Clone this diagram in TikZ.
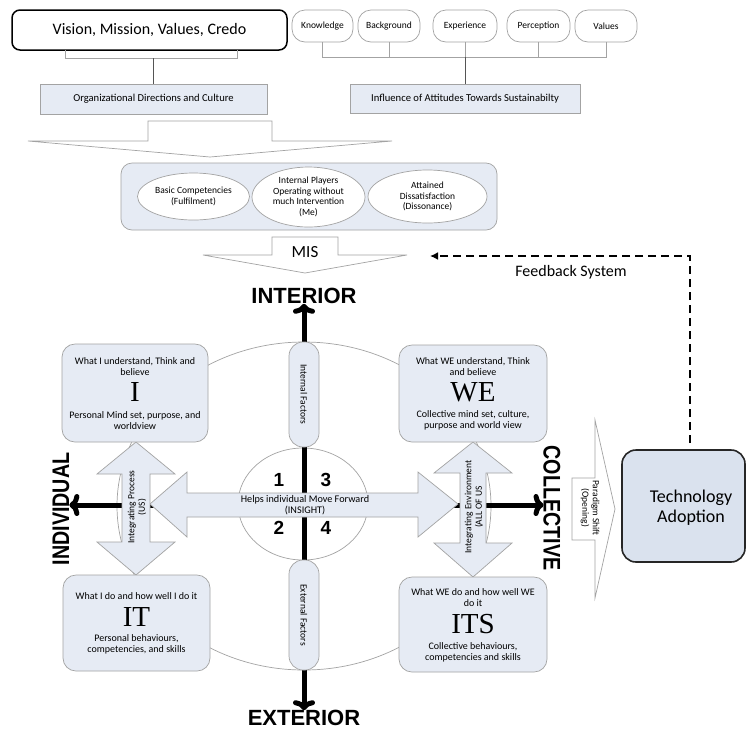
\documentclass[tikz,border=0pt]{standalone}
\usepackage{fontspec}
\setmainfont{Carlito}
\newfontfamily\axisfont{Liberation Sans}
\newfontfamily\serifletter{Liberation Serif}
\usetikzlibrary{arrows.meta,calc,shapes.geometric}

\definecolor{boxfill}{HTML}{E6EBF4}
\definecolor{techfill}{HTML}{DAE2EE}
\definecolor{edgegray}{HTML}{A3A3A3}
\definecolor{linkgray}{HTML}{555555}

\begin{document}
\begin{tikzpicture}[x=1pt,y=-1pt,
  every node/.style={inner sep=0pt, outer sep=0pt},
  smalltext/.style={font=\fontsize{9.5}{10.5}\selectfont},
  boxtext/.style={font=\fontsize{10}{11}\selectfont, align=center},
  thingray/.style={draw=edgegray, line width=0.7pt},
  link/.style={draw=linkgray, line width=0.8pt},
  lightbox/.style={thingray, fill=boxfill},
  pill/.style={thingray, fill=white, rounded corners=13pt, minimum height=32pt, smalltext},
  flatbox/.style={lightbox, minimum height=30pt, font=\fontsize{10.6}{12}\selectfont},
  oval/.style={ellipse, thingray, fill=white, align=center, smalltext},
  quadbox/.style={lightbox, rounded corners=13pt},
  bigletter/.style={font=\serifletter\fontsize{29}{29}\selectfont},
  axislabel/.style={font=\axisfont\bfseries\fontsize{22}{22}\selectfont},
  sidelabel/.style={font=\axisfont\bfseries\fontsize{24}{24}\selectfont},
  quadnum/.style={font=\axisfont\bfseries\fontsize{19}{19}\selectfont},
  axis/.style={line width=5pt, -{To[length=10pt,width=22pt]}},
  blockarrow/.style={thingray, fill=boxfill},
  feedback/.style={line width=2.6pt, dash pattern=on 8pt off 5pt, -{Latex[length=8pt,width=8pt]}}
]
\fill[white] (0,0) rectangle (746,729);
\path[use as bounding box] (0,0) rectangle (746,729);

% ---------- top row: organisation and attitudes ----------
\node[draw=black, line width=1.5pt, fill=white, rounded corners=8pt,
      minimum width=275pt, minimum height=40pt,
      font=\fontsize{16}{18}\selectfont] (vmv) at (149.5,30) {Vision, Mission, Values, Credo};
\node[flatbox, minimum width=227pt] (org) at (153.5,99) {Organizational Directions and Culture};
\draw[thingray] ([xshift=-84.5pt]vmv.south) -- ++(0,8) -| ([xshift=87.5pt]vmv.south);
\draw[link] (org.north |- 0,58) -- (org.north);

\node[pill, minimum width=61pt] (know) at (322.5,26) {Knowledge};
\node[pill, minimum width=62pt] (back) at (389,26) {Background};
\node[pill, minimum width=64pt] (expe) at (465,26) {Experience};
\node[pill, minimum width=63pt] (perc) at (538.5,26) {Perception};
\node[pill, minimum width=62pt] (valu) at (606,26) {Values};
\coordinate (pillbar) at (0,57);
\draw[thingray] (know.south) |- (valu.south |- pillbar) -- (valu.south);
\draw[thingray] (back.south) -- (back.south |- pillbar);
\draw[thingray] (expe.south) -- (expe.south |- pillbar);
\draw[thingray] (perc.south) -- (perc.south |- pillbar);
\node[flatbox, minimum width=230pt, minimum height=29pt] (infl) at (465,98.5) {Influence of Attitudes Towards Sustainabilty};
\draw[link] (expe.south |- pillbar) -- (infl.north);

% wide funnel arrow
\draw[thingray, fill=white] (28,141) -- (148,141) -- (148,121) -- (272,121) -- (272,141)
  -- (392,141) -- (210,157) -- cycle;

% ---------- panel of three ovals ----------
\node[lightbox, rounded corners=11pt, minimum width=376pt, minimum height=67pt] (panel) at (309,196.5) {};
\node[oval, minimum width=112pt, minimum height=47pt] (fulfil) at (193.5,196.5) {Basic Competencies\\(Fulfilment)};
\node[oval, minimum width=113pt, minimum height=60pt] (players) at (308.5,197) {Internal Players\\Operating without\\much Intervention\\(Me)};
\node[oval, minimum width=119pt, minimum height=53pt] (disso) at (427.5,196.5) {Attained\\Dissatisfaction\\(Dissonance)};

% MIS arrow
\draw[thingray, fill=white] (272,237) -- (338,237) -- (338,255) -- (407,255) -- (305,273)
  -- (203,255) -- (272,255) -- cycle;
\node[font=\fontsize{17}{17}\selectfont] (mis) at (305,252) {MIS};

% ---------- quadrant model ----------
\draw[thingray] (304,506) ellipse [x radius=187, y radius=164];
\draw[thingray] (303,504) ellipse [x radius=65, y radius=56];

\coordinate (hub) at (304,505);
\node[axislabel] (interior) at (304,296) {INTERIOR};
\node[axislabel] (exterior) at (304,718) {EXTERIOR};
\node[sidelabel, rotate=90] (individual) at (61,509) {\scalebox{0.82}[1]{INDIVIDUAL}};
\node[sidelabel, rotate=-90] (collective) at (552,508) {\scalebox{0.82}[1]{COLLECTIVE}};
\draw[axis] (hub) -- (interior.south);
\draw[axis] (hub) -- (exterior.north);
\draw[axis] (hub) -- (individual.south |- hub);
\draw[axis] (hub) -- (collective.south |- hub);

\node[quadnum] (q1) at (279,480) {1};
\node[quadnum] (q3) at (326,480) {3};
\node[quadnum] (q2) at (279,528) {2};
\node[quadnum] (q4) at (326,528) {4};

% horizontal double arrow (insight)
\draw[blockarrow] (150,504) -- (187,472) -- (187,493) -- (418,493) -- (418,472) -- (458,504)
  -- (418,537) -- (418,517) -- (187,517) -- (187,537) -- cycle;
\node[font=\fontsize{10.2}{11}\selectfont, align=center] (insight) at (305,505) {Helps individual Move Forward\\(INSIGHT)};

% vertical double arrows
\draw[blockarrow] (136,442) -- (175,474) -- (150,474) -- (150,542) -- (175,542) -- (136,575)
  -- (97,542) -- (122,542) -- (122,474) -- (97,474) -- cycle;
\node[smalltext, align=center, rotate=90] (intproc) at (137,507) {Integrating Process\\(US)};
\draw[blockarrow] (473,442) -- (512,473) -- (486,473) -- (486,543) -- (512,543) -- (473,577)
  -- (434,543) -- (460,543) -- (460,473) -- (434,473) -- cycle;
\node[smalltext, align=center, rotate=90] (intenv) at (474,507) {Integrating Environment\\(ALL OF US};

% factor pills on the vertical axis
\node[lightbox, rounded corners=14pt, minimum width=105pt, minimum height=30pt, rotate=-90, smalltext] (intf) at (304,394.5) {Internal Factors};
\node[lightbox, rounded corners=14pt, minimum width=110pt, minimum height=30pt, rotate=-90, smalltext] (extf) at (304,615) {External Factors};

% quadrant boxes
\node[quadbox, minimum width=146pt, minimum height=98pt] (boxI) at (135,393) {};
\node[boxtext] (boxItop) at (135,366.5) {What I understand, Think and\\believe};
\node[bigletter] (boxIl) at (135,392) {I};
\node[boxtext] (boxIbot) at (135,421) {Personal Mind set, purpose, and\\worldview};

\node[quadbox, minimum width=148pt, minimum height=97pt] (boxWE) at (473,393.5) {};
\node[boxtext] (boxWEtop) at (473,366.5) {What WE understand, Think\\and believe};
\node[bigletter] (boxWEl) at (473,392) {WE};
\node[boxtext] (boxWEbot) at (473,420.5) {Collective mind set, culture,\\purpose and world view};

\node[quadbox, minimum width=147pt, minimum height=96pt] (boxIT) at (136.5,623) {};
\node[boxtext] (boxITtop) at (136.5,596) {What I do and how well I do it};
\node[bigletter] (boxITl) at (136.5,617) {IT};
\node[boxtext] (boxITbot) at (136.5,644) {Personal behaviours,\\competencies, and skills};

\node[quadbox, minimum width=148pt, minimum height=95pt] (boxITS) at (473,624.5) {};
\node[boxtext] (boxITStop) at (473,597.5) {What WE do and how well WE\\do it};
\node[bigletter] (boxITSl) at (473,624) {ITS};
\node[boxtext] (boxITSbot) at (473,652.5) {Collective behaviours,\\competencies and skills};

% ---------- paradigm shift and technology adoption ----------
\draw[thingray, fill=white] (572,478) -- (595,478) -- (595,420) -- (615,509) -- (595,598)
  -- (595,540) -- (572,540) -- cycle;
\node[smalltext, align=center, rotate=-90] (shift) at (590,508) {Paradigm Shift\\(Opening)};

\node[draw=black!85, line width=1.6pt, fill=techfill, rounded corners=14pt,
      minimum width=123pt, minimum height=112pt] (tech) at (683.5,506) {};
\node[font=\fontsize{18}{20}\selectfont, align=center] (techtext) at (691,508) {Technology\\Adoption};

% feedback loop back to MIS
\coordinate (fbend) at (430,256);
\draw[feedback] ([xshift=6.5pt]tech.north) ++(0,-7) |- (fbend);
\node[font=\fontsize{16}{18}\selectfont] (fbtext) at (571,272) {Feedback System};
\end{tikzpicture}
\end{document}
